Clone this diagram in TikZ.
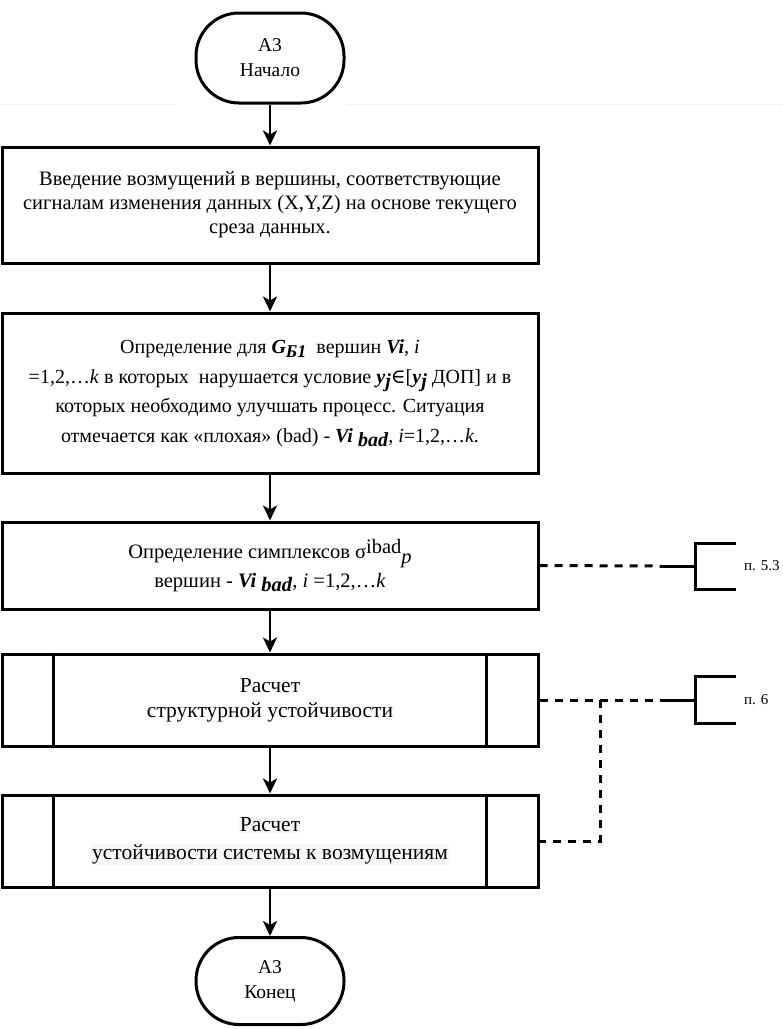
\documentclass[tikz,border=0pt]{standalone}
\usepackage{fontspec}
\setmainfont{Liberation Serif}
\newfontfamily\symf{DejaVu Serif}
\usetikzlibrary{arrows.meta}
\tikzset{
  term/.style={draw, line width=3pt, rounded corners=43pt, minimum width=148pt, align=center, inner sep=0pt},
  proc/.style={draw, line width=3pt, minimum width=536pt, align=center, inner sep=0pt},
  arr/.style={line width=2.8pt, -{Stealth[length=15pt,width=14pt,inset=4pt]}},
  dashline/.style={line width=3pt, dash pattern=on 8pt off 7pt},
  solidline/.style={line width=3pt},
  refnode/.style={anchor=west, inner sep=0pt, font=\fontsize{15}{18}\selectfont}
}
\newcommand{\bi}[1]{\textbf{\textit{#1}}}
\newcommand{\lowbi}[1]{\raisebox{-0.45ex}{\bi{#1}}}
\newcommand{\hl}[1]{{\setlength{\fboxsep}{1pt}\colorbox{black!3}{#1}}}
\begin{document}
\begin{tikzpicture}[x=1pt,y=-1pt,font=\fontsize{20.5}{25}\selectfont]
\useasboundingbox (0,0) rectangle (783,1029);
% faint artefact line
\draw[black!6, line width=1pt] (0,104) -- (176,104) (347,104) -- (783,104);

\node[term, minimum height=90pt, font=\fontsize{19.5}{25}\selectfont] (start) at (270,58) {А3\\Начало};

\node[proc, minimum height=116pt, font=\fontsize{20.5}{24}\selectfont] (b1) at (270,205)
 {Введение возмущений в вершины, соответствующие\\сигналам изменения данных (X,Y,Z) на основе текущего\\среза данных.};

\node[proc, minimum height=160pt, font=\fontsize{20}{29.5}\selectfont] (b2) at (270,393)
 {Определение для \bi{G}\raisebox{-0.45ex}{\fontsize{18}{18}\selectfont\bi{Б1}}\ \ вершин \bi{Vi}, \textit{i}\\
  =1,2,…\textit{k} в которых\ \ нарушается условие \bi{y}\lowbi{j}{\symf ∈}[\bi{y}\lowbi{j} ДОП] и в\\
  которых необходимо улучшать процесс. Ситуация\\
  отмечается как «плохая» (bad) - \bi{Vi} \lowbi{bad}, \textit{i}=1,2,…\textit{k}.};

\node[proc, minimum height=87pt, font=\fontsize{20.5}{29}\selectfont] (b3) at (270,565.5)
 {Определение симплексов σ\raisebox{0.55ex}{ibad}\raisebox{-0.5ex}{\textit{p}}\\
  вершин - \bi{Vi} \lowbi{bad}, \textit{i} =1,2,…\textit{k}};

\node[proc, minimum height=92pt, font=\fontsize{21.5}{25}\selectfont] (b4) at (270,700)
 {Расчет\\структурной устойчивости};
\draw[solidline] ([xshift=53pt]b4.north west) -- ([xshift=53pt]b4.south west);
\draw[solidline] ([xshift=-53pt]b4.north east) -- ([xshift=-53pt]b4.south east);

\node[proc, minimum height=92pt, font=\fontsize{21.5}{28}\selectfont] (b5) at (270,841)
 {\hl{Расчет}\\\hl{устойчивости системы к возмущениям}};
\draw[solidline] ([xshift=53pt]b5.north west) -- ([xshift=53pt]b5.south west);
\draw[solidline] ([xshift=-53pt]b5.north east) -- ([xshift=-53pt]b5.south east);

\node[term, minimum height=87pt, font=\fontsize{19.5}{25}\selectfont] (end) at (270,981) {А3\\Конец};

\draw[arr] (start) -- (b1);
\draw[arr] (b1) -- (b2);
\draw[arr] (b2) -- (b3);
\draw[arr] (b3) -- (b4);
\draw[arr] (b4) -- (b5);
\draw[arr] (b5) -- (end);

% reference to п. 5.3
\coordinate (j1) at (660,566);
\coordinate (r1) at (695,566);
\draw[dashline] (b3.east) -- (j1);
\draw[solidline] (j1) -- (r1);
\draw[solidline] (736,543) -- (695,543) -- (695,589) -- (736,589);
\node[refnode] (p53) at (744,566) {п. 5.3};

% reference to п. 6
\coordinate (j2) at (660,700);
\coordinate (r2) at (695,700);
\coordinate (v1) at (600,700);
\coordinate (v2) at (600,841);
\draw[dashline] (b4.east) -- (j2);
\draw[solidline] (j2) -- (r2);
\draw[solidline] (736,676) -- (695,676) -- (695,723) -- (736,723);
\node[refnode] (p6) at (744,700) {п. 6};
\draw[dashline] (v1) -- (v2) -- (b5.east);
\end{tikzpicture}
\end{document}
